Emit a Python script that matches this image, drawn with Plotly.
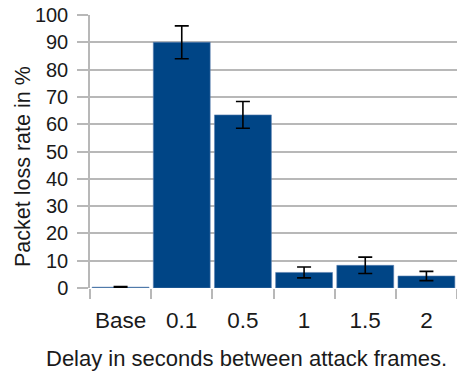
import plotly.graph_objects as go

# Packet loss measurements per delay setting
categories = ["Base", "0.1", "0.5", "1", "1.5", "2"]
loss_rate = [0.3, 90.0, 63.4, 5.7, 8.3, 4.4]
loss_err = [0.2, 6.0, 4.9, 2.0, 3.0, 1.7]

y_ticks = list(range(0, 101, 10))

BAR_BLUE = "#004586"
GRID = "#b8b8b8"
FONT = "Liberation Sans, Arial, sans-serif"
TEXT = "#1a1a1a"

# plot area in pixels, used to place the axis titles
W, H = 457, 373
L, R, T, B = 90, 0, 15, 85
pw, ph = W - L - R, H - T - B

fig = go.Figure(
    go.Bar(
        x=categories,
        y=loss_rate,
        marker=dict(color=BAR_BLUE, line=dict(color="#5a7fb0", width=0.6)),
        error_y=dict(type="data", array=loss_err, visible=True,
                     color="#000000", thickness=1.6, width=7),
    )
)

fig.update_layout(
    width=W,
    height=H,
    margin=dict(l=L, r=R, t=T, b=B),
    paper_bgcolor="white",
    plot_bgcolor="white",
    bargap=0.07,
    showlegend=False,
    font=dict(family=FONT, color=TEXT),
    xaxis=dict(
        type="category",
        tickson="boundaries",
        ticks="outside",
        ticklen=10,
        tickcolor=GRID,
        tickwidth=1.5,
        showgrid=False,
        showline=False,
        tickfont=dict(size=22.5),
        ticklabelstandoff=16,
        automargin=False,
    ),
    yaxis=dict(
        range=[0, 100],
        tickvals=y_ticks,
        ticks="outside",
        ticklen=11,
        tickcolor=GRID,
        tickwidth=1.5,
        showgrid=True,
        gridcolor=GRID,
        gridwidth=1.5,
        showline=True,
        linecolor=GRID,
        linewidth=1.5,
        zeroline=False,
        tickfont=dict(size=20),
        ticklabelstandoff=5,
        automargin=False,
    ),
    annotations=[
        dict(text="Delay in seconds between attack frames.",
             xref="paper", yref="paper",
             x=(246 - L) / pw, y=(H - B - 358) / ph,
             xanchor="center", yanchor="middle", showarrow=False,
             font=dict(size=22, family=FONT, color=TEXT)),
        dict(text="Packet loss rate in %",
             xref="paper", yref="paper",
             x=(23 - L) / pw, y=(H - B - 167) / ph,
             xanchor="center", yanchor="middle", showarrow=False,
             textangle=-90,
             font=dict(size=21.5, family=FONT, color=TEXT)),
    ],
)

fig.write_html("out.html")
